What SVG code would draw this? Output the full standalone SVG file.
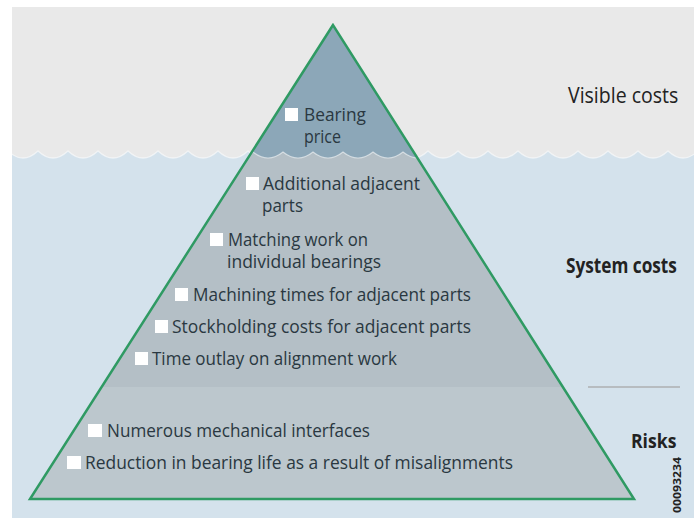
<svg xmlns="http://www.w3.org/2000/svg" width="694" height="518" viewBox="0 0 694 518">
<defs>
<style>
.t{font-family:"Open Sans","Noto Sans","Liberation Sans",sans-serif;font-size:18px;fill:#2a3841}
.lbl{font-family:"Open Sans","Noto Sans","Liberation Sans",sans-serif;font-size:21px;fill:#222}
.b{font-weight:bold}
.box{fill:#ffffff}
.wave{fill:none;stroke:#ffffff;stroke-opacity:0.55;stroke-width:1.2}
</style>
<clipPath id="bgclip"><rect x="12" y="7" width="682" height="511"/></clipPath>
<clipPath id="tri"><polygon points="333,25 30,499 634,499"/></clipPath>
</defs>
<rect width="694" height="518" fill="#ffffff"/>
<g id="background" clip-path="url(#bgclip)">
<rect x="12" y="7" width="682" height="511" fill="#d4e2ec"/>
<path fill="#e9e9e9" d="M8 7 H698 V151 L698 151 Q683 165 668 151 Q653 165 638 151 Q623 165 608 151 Q593 165 578 151 Q563 165 548 151 Q533 165 518 151 Q503 165 488 151 Q473 165 458 151 Q443 165 428 151 Q413 165 398 151 Q383 165 368 151 Q353 165 338 151 Q323 165 308 151 Q293 165 278 151 Q263 165 248 151 Q233 165 218 151 Q203 165 188 151 Q173 165 158 151 Q143 165 128 151 Q113 165 98 151 Q83 165 68 151 Q53 165 38 151 Q23 165 8 151 Z"/>
<path class="wave" d="M8 151 Q23 165 38 151 Q53 165 68 151 Q83 165 98 151 Q113 165 128 151 Q143 165 158 151 Q173 165 188 151 Q203 165 218 151 Q233 165 248 151 Q263 165 278 151 Q293 165 308 151 Q323 165 338 151 Q353 165 368 151 Q383 165 398 151 Q413 165 428 151 Q443 165 458 151 Q473 165 488 151 Q503 165 518 151 Q533 165 548 151 Q563 165 578 151 Q593 165 608 151 Q623 165 638 151 Q653 165 668 151 Q683 165 698 151"/>
<line x1="588" y1="387" x2="680" y2="387" stroke="#b7bcc0" stroke-width="2"/>
</g>
<g id="iceberg">
<g clip-path="url(#tri)">
<rect x="0" y="0" width="694" height="387" fill="#b4bfc6"/>
<rect x="0" y="387" width="694" height="131" fill="#bcc7cd"/>
<path fill="#8ca7b8" d="M223 0 H433 V152 L433 152 Q418 164 403 152 Q388 164 373 152 Q358 164 343 152 Q328 164 313 152 Q298 164 283 152 Q268 164 253 152 Q238 164 223 152 Z"/>
<path class="wave" d="M223 152 Q238 164 253 152 Q268 164 283 152 Q298 164 313 152 Q328 164 343 152 Q358 164 373 152 Q388 164 403 152 Q418 164 433 152"/>
</g>
<polygon points="333,25 30,499 634,499" fill="none" stroke="#2f9a63" stroke-width="2.5"/>
</g>
<g id="connectors"></g>
<g id="item-bearing-price">
<rect class="box" x="285" y="108" width="13" height="13"/>
<text class="t" x="304" y="121" textLength="62" lengthAdjust="spacingAndGlyphs">Bearing</text>
<text class="t" x="304" y="143" textLength="37" lengthAdjust="spacingAndGlyphs">price</text>
</g>
<g id="item-additional">
<rect class="box" x="246" y="177" width="13" height="13"/>
<text class="t" x="263" y="190" textLength="157" lengthAdjust="spacingAndGlyphs">Additional adjacent</text>
<text class="t" x="262" y="212" textLength="41" lengthAdjust="spacingAndGlyphs">parts</text>
</g>
<g id="item-matching">
<rect class="box" x="210" y="233" width="13" height="13"/>
<text class="t" x="228" y="246" textLength="140" lengthAdjust="spacingAndGlyphs">Matching work on</text>
<text class="t" x="227" y="268" textLength="154" lengthAdjust="spacingAndGlyphs">individual bearings</text>
</g>
<g id="item-machining">
<rect class="box" x="175" y="288" width="13" height="13"/>
<text class="t" x="193" y="301" textLength="278" lengthAdjust="spacingAndGlyphs">Machining times for adjacent parts</text>
</g>
<g id="item-stockholding">
<rect class="box" x="155" y="320" width="13" height="13"/>
<text class="t" x="172" y="333" textLength="299" lengthAdjust="spacingAndGlyphs">Stockholding costs for adjacent parts</text>
</g>
<g id="item-time-outlay">
<rect class="box" x="135" y="352" width="13" height="13"/>
<text class="t" x="152" y="365" textLength="245" lengthAdjust="spacingAndGlyphs">Time outlay on alignment work</text>
</g>
<g id="item-interfaces">
<rect class="box" x="88" y="424" width="14" height="13"/>
<text class="t" x="107" y="437" textLength="263" lengthAdjust="spacingAndGlyphs">Numerous mechanical interfaces</text>
</g>
<g id="item-reduction">
<rect class="box" x="67" y="456" width="14" height="13"/>
<text class="t" x="85" y="469" textLength="428" lengthAdjust="spacingAndGlyphs">Reduction in bearing life as a result of misalignments</text>
</g>
<g id="label-visible">
<text class="lbl" transform="translate(568,103) scale(0.93,1)">Visible costs</text>
</g>
<g id="label-system">
<text class="lbl b" transform="translate(566,273) scale(0.82,1)">System costs</text>
</g>
<g id="label-risks">
<text class="lbl b" transform="translate(631,448) scale(0.88,1)" style="font-size:20px">Risks</text>
</g>
<g id="code">
<text class="lbl b" transform="translate(681,513) rotate(-90)" style="font-size:11px" textLength="56" lengthAdjust="spacingAndGlyphs">00093234</text>
</g>
</svg>
